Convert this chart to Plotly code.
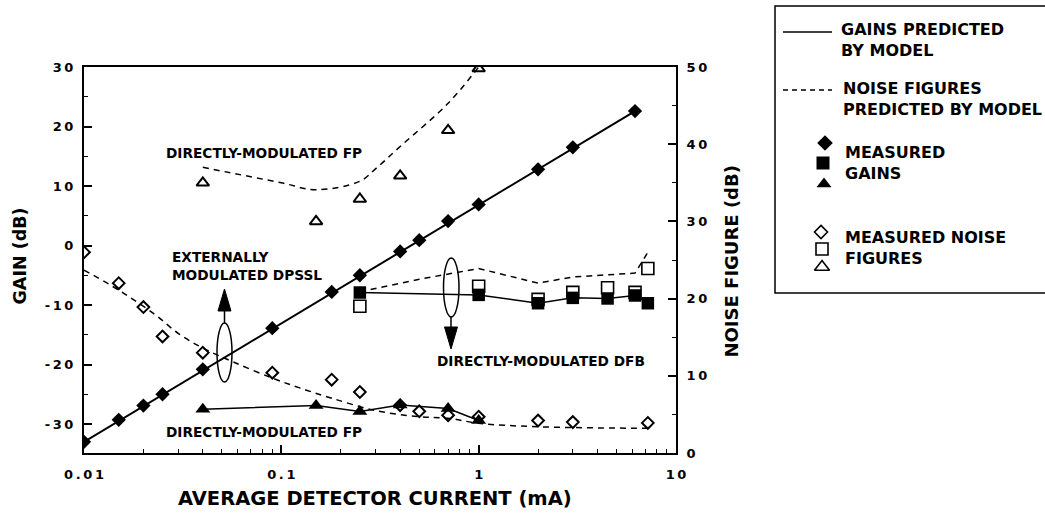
import plotly.graph_objects as go

W, H = 1045, 518

# ---------------- data ----------------
# Externally modulated DPSSL: measured gain (filled diamonds) and NF (open diamonds)
cur_gain_fit = [0.01, 6.2]
gain_fit = [-33.0, 22.6]

cur_dpssl = [0.01, 0.015, 0.02, 0.025, 0.04, 0.09, 0.18, 0.25, 0.4, 0.5, 0.7, 1.0, 2.0, 3.0, 6.2]
gain_dpssl = [-33.0, -29.3, -26.9, -25.0, -20.8, -13.9, -7.8, -5.0, -1.0, 0.9, 4.1, 6.9, 12.8, 16.5, 22.6]

cur_dpssl_nf = [0.01, 0.015, 0.02, 0.025, 0.04, 0.09, 0.18, 0.25, 0.4, 0.5, 0.7, 1.0, 2.0, 3.0, 7.2]
nf_dpssl = [26.0, 22.0, 18.9, 15.1, 13.0, 10.4, 9.5, 7.9, 6.2, 5.4, 4.9, 4.7, 4.2, 4.0, 3.9]

cur_dpssl_nf_model = [0.01, 0.0135, 0.017, 0.023, 0.03, 0.04, 0.057, 0.09, 0.125, 0.18, 0.3, 0.5, 0.7, 1.0, 2.0, 7.2]
nf_dpssl_model = [23.7, 21.8, 20.2, 17.9, 15.5, 13.6, 11.8, 9.7, 8.4, 7.1, 5.5, 4.7, 4.5, 3.85, 3.4, 3.2]

# Directly modulated DFB: filled squares (gain), open squares (NF)
cur_dfb = [0.25, 1.0, 2.0, 3.0, 4.5, 6.2, 7.2]
gain_dfb = [-7.9, -8.3, -9.7, -8.8, -8.9, -8.4, -9.7]
nf_dfb = [19.0, 21.6, 19.9, 20.8, 21.4, 20.8, 23.9]
cur_dfb_nf_model = [0.25, 0.5, 1.0, 2.0, 3.0, 4.5, 6.2, 7.2]
nf_dfb_model = [20.9, 22.5, 23.9, 22.0, 22.8, 23.1, 23.3, 26.0]

# Directly modulated FP: filled triangles (gain), open triangles (NF)
cur_fp = [0.04, 0.15, 0.25, 0.4, 0.7, 1.0]
gain_fp = [-27.5, -26.9, -27.9, -26.8, -27.4, -29.4]
nf_fp = [35.0, 30.0, 32.9, 35.9, 41.8, 49.8]
cur_fp_nf_model = [0.04, 0.1, 0.15, 0.25, 0.3, 0.4, 0.7, 1.0]
nf_fp_model = [37.0, 35.0, 34.1, 35.2, 36.8, 39.7, 45.3, 50.0]

# tick labels
x_tickvals = [0.01, 0.1, 1, 10]
x_ticktext = ["0.01", "0.1", "1", "10"]
gain_tickvals = [-30, -20, -10, 0, 10, 20, 30]
gain_ticktext = ["-30", "-20", "-10", "0", "10", "20", "30"]
nf_tickvals = [0, 10, 20, 30, 40, 50]
nf_ticktext = ["0", "10", "20", "30", "40", "50"]

# ---------------- styling helpers ----------------
FONT = "DejaVu Sans"
TS = "\u2009"  # thin space used as letter spacing


def spaced(s):
    return TS.join(list(s))


def px(x):
    return x / W


def py(y):
    return 1 - y / H


def f(size):
    return dict(family=FONT, size=size, color="black", weight="bold")


DASH = "6px,5px"

fig = go.Figure()

# model lines
fig.add_trace(go.Scatter(x=cur_gain_fit, y=gain_fit, mode="lines",
                         line=dict(color="black", width=2), xaxis="x", yaxis="y"))
fig.add_trace(go.Scatter(x=cur_dpssl_nf_model, y=nf_dpssl_model, mode="lines",
                         line=dict(color="black", width=1.5, dash=DASH, shape="spline"),
                         xaxis="x", yaxis="y2"))
fig.add_trace(go.Scatter(x=cur_dfb_nf_model, y=nf_dfb_model, mode="lines",
                         line=dict(color="black", width=1.5, dash=DASH),
                         xaxis="x", yaxis="y2"))
fig.add_trace(go.Scatter(x=cur_fp_nf_model, y=nf_fp_model, mode="lines",
                         line=dict(color="black", width=1.5, dash=DASH, shape="spline"),
                         xaxis="x", yaxis="y2"))

# measured noise figures (open markers)
fig.add_trace(go.Scatter(x=cur_dpssl_nf, y=nf_dpssl, mode="markers",
                         marker=dict(symbol="diamond-open", size=9, color="black",
                                     line=dict(width=2, color="black")),
                         xaxis="x", yaxis="y2"))
fig.add_trace(go.Scatter(x=cur_dfb, y=nf_dfb, mode="markers",
                         marker=dict(symbol="square-open", size=12, color="black",
                                     line=dict(width=1.6, color="black")),
                         xaxis="x", yaxis="y2"))
fig.add_trace(go.Scatter(x=cur_fp, y=nf_fp, mode="markers",
                         marker=dict(symbol="triangle-up-open", size=11, color="black",
                                     line=dict(width=2, color="black")),
                         xaxis="x", yaxis="y2"))

# measured gains (filled markers)
fig.add_trace(go.Scatter(x=cur_dfb, y=gain_dfb, mode="lines+markers",
                         line=dict(color="black", width=1.5),
                         marker=dict(symbol="square", size=12.5, color="black", line=dict(width=0)),
                         xaxis="x", yaxis="y"))
fig.add_trace(go.Scatter(x=cur_fp, y=gain_fp, mode="lines+markers",
                         line=dict(color="black", width=1.5),
                         marker=dict(symbol="triangle-up", size=13, color="black", line=dict(width=0)),
                         xaxis="x", yaxis="y"))
fig.add_trace(go.Scatter(x=cur_dpssl, y=gain_dpssl, mode="markers",
                         marker=dict(symbol="diamond", size=11, color="black", line=dict(width=0)),
                         xaxis="x", yaxis="y"))

# legend symbols (on a pixel-space helper axis)
leg_sym = [("diamond", 825, 143, 12), ("square", 823, 163, 13), ("triangle-up", 824, 184, 13),
           ("diamond-open", 821, 232, 10), ("square-open", 822, 249, 12), ("triangle-up-open", 822, 267, 13)]
for sym, lx, ly, sz in leg_sym:
    fig.add_trace(go.Scatter(x=[lx], y=[ly], mode="markers",
                             marker=dict(symbol=sym, size=sz, color="black",
                                         line=dict(width=1.6 if "open" in sym else 0, color="black")),
                             xaxis="x3", yaxis="y3"))

minor_x = [m * d for d in (0.01, 0.1, 1) for m in range(2, 10)]

axis_common = dict(showline=True, linecolor="black", linewidth=2, showgrid=False, zeroline=False,
                   ticks="inside", ticklen=8, tickwidth=1.5, tickcolor="black",
                   tickfont=f(13), automargin=False)

fig.update_layout(
    width=W, height=H, autosize=False,
    margin=dict(l=0, r=0, t=0, b=0),
    paper_bgcolor="white", plot_bgcolor="rgba(0,0,0,0)",
    showlegend=False,
    font=f(13),
    xaxis=dict(type="log", range=[-2, 1], domain=[px(84), px(676)], anchor="y",
               tickvals=x_tickvals, ticktext=[spaced(t) for t in x_ticktext],
               mirror=True, ticklabelstandoff=8,
               minor=dict(tickvals=minor_x, ticks="inside", ticklen=4, tickwidth=1, tickcolor="black",
                          showgrid=False),
               **axis_common),
    yaxis=dict(range=[-34.87, 30], domain=[py(453), py(67)], anchor="x",
               tickvals=gain_tickvals, ticktext=[spaced(t) for t in gain_ticktext],
               ticklabelstandoff=6,
               minor=dict(dtick=5, ticks="inside", ticklen=4, tickwidth=1, tickcolor="black",
                          showgrid=False),
               **axis_common),
    yaxis2=dict(range=[0, 50], overlaying="y", side="right", anchor="x",
                tickvals=nf_tickvals, ticktext=[spaced(t) for t in nf_ticktext],
                ticklabelstandoff=6,
                minor=dict(dtick=5, ticks="inside", ticklen=4, tickwidth=1, tickcolor="black",
                           showgrid=False),
                **axis_common),
    xaxis3=dict(domain=[0, 1], range=[0, W], visible=False, anchor="y3", fixedrange=True),
    yaxis3=dict(domain=[0, 1], range=[H, 0], visible=False, anchor="x3", fixedrange=True),
)

ann = []


def text(t, x, y, size, xanchor="center", angle=0):
    ann.append(dict(text=t, x=px(x), y=py(y), xref="paper", yref="paper", showarrow=False,
                    xanchor=xanchor, yanchor="middle", align="left", font=f(size), textangle=angle))


text("DIRECTLY-MODULATED FP", 264, 153, 13.7)
text("EXTERNALLY<br>MODULATED DPSSL", 170, 265.5, 13.7, xanchor="left")
text("DIRECTLY-MODULATED FP", 264, 431.5, 13.7)
text("DIRECTLY-MODULATED DFB", 541, 361, 13.7)
text("AVERAGE DETECTOR CURRENT (mA)", 375, 498, 19.5)
text("GAIN (dB)", 19, 256.5, 17.5, angle=-90)
text("NOISE FIGURE (dB)", 731, 261.5, 18, angle=-90)
# legend texts
text("GAINS PREDICTED<br>BY MODEL", 839, 39.5, 16, xanchor="left")
text("NOISE FIGURES<br>PREDICTED BY MODEL", 841, 98.5, 16, xanchor="left")
text("MEASURED<br>GAINS", 843, 162.5, 16, xanchor="left")
text("MEASURED NOISE<br>FIGURES", 843, 248, 16, xanchor="left")

shapes = []


def line(x0, y0, x1, y1, w=1.5, dash=None):
    d = dict(type="line", xref="paper", yref="paper", x0=px(x0), y0=py(y0), x1=px(x1), y1=py(y1),
             line=dict(color="black", width=w))
    if dash:
        d["line"]["dash"] = dash
    shapes.append(d)


def ellipse(x0, y0, x1, y1):
    shapes.append(dict(type="circle", xref="paper", yref="paper", x0=px(x0), y0=py(y0),
                       x1=px(x1), y1=py(y1), line=dict(color="black", width=1.5)))


def tri(pts):
    p = "M " + " L ".join(f"{px(a):.5f},{py(b):.5f}" for a, b in pts) + " Z"
    shapes.append(dict(type="path", xref="paper", yref="paper", path=p,
                       fillcolor="black", line=dict(color="black", width=1)))


# ellipses and arrows
ellipse(217, 323, 232, 382)
line(224.5, 323, 224.5, 308)
tri([(224.5, 289), (218, 311), (231, 311)])
ellipse(443.5, 258, 459, 317)
line(451, 317, 451, 330)
tri([(451, 349), (444.5, 327), (457.5, 327)])

# legend box and line samples
shapes.append(dict(type="rect", xref="paper", yref="paper", x0=px(775), y0=py(293), x1=px(1060), y1=py(6),
                   line=dict(color="black", width=1.5), fillcolor="rgba(0,0,0,0)"))
line(783, 32, 832, 32)
line(783, 90, 832, 90, dash="5px,4px")

fig.update_layout(annotations=ann, shapes=shapes)

fig.write_html("out.html", config={"displayModeBar": False},
               post_script="document.body.style.margin='0';")
